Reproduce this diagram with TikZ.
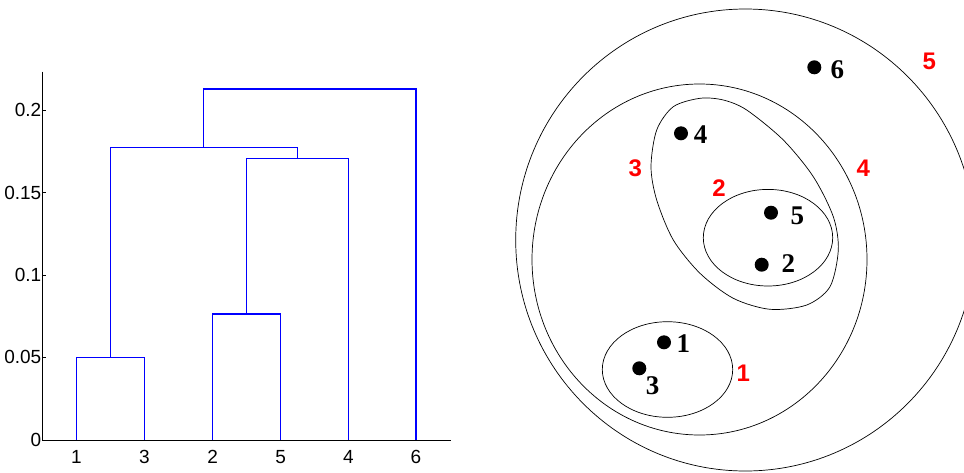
\documentclass[tikz,border=0pt]{standalone}
\usepackage{fontspec}
\setmainfont{Liberation Serif}
\setsansfont{Liberation Sans}
\usepackage{tikz}
\usetikzlibrary{positioning}

\begin{document}
\begin{tikzpicture}[x=1pt,y=-1pt,
	dend/.style={blue,line width=1.1pt},
	ring/.style={black,line width=0.7pt},
	dot/.style={circle,fill=black,inner sep=0pt,minimum size=14pt},
	ptlbl/.style={font=\fontsize{27}{27}\selectfont\bfseries,inner sep=0pt},
	lvl/.style={red,font=\fontsize{24}{24}\sffamily\bfseries\selectfont,inner sep=0pt},
	ticklbl/.style={font=\fontsize{19}{19}\sffamily\selectfont,inner sep=0.5pt}]
	
	\useasboundingbox (0,0) rectangle (964,472);
	\clip (0,0) rectangle (964,472);
	
	% dendrogram axes
	\draw[line width=0.8pt] (42,71.7) -- (42,440) -- (450.7,440);
	\foreach \v/\y in {0/440,0.05/357.3,0.1/275,0.15/192.7,0.2/110}{
		\draw[line width=0.8pt] (42,\y) -- (46,\y);
		\node[ticklbl,anchor=east] (y\v) at (42,\y) {\v};
	}
	\foreach \n/\x in {1/76.3,3/144.3,2/212.7,5/280.7,4/348.3,6/416}{
		\coordinate (l\n) at (\x,440);
		\node[ticklbl] (x\n) at (\x,457) {\n};
	}
	
	% merge points
	\coordinate (m13) at (110.3,357.3);
	\coordinate (m25) at (246.7,314);
	\coordinate (m254) at (297.5,158.3);
	\coordinate (m13254) at (203.9,147.7);
	\coordinate (mall) at (310,89);
	
	\draw[dend] (l1) |- (m13) -| (l3);
	\draw[dend] (l2) |- (m25) -| (l5);
	\draw[dend] (m25) |- (m254) -| (l4);
	\draw[dend] (m13) |- (m13254) -| (m254);
	\draw[dend] (m13254) |- (mall) -| (l6);
	
	% nested clusters
	\draw[ring] (745.4,240) ellipse [x radius=229.7, y radius=231];
	\draw[ring] (699.5,259.5) ellipse [x radius=167.5, y radius=175.5];
	\draw[ring] plot[smooth cycle] coordinates {(700,98.3) (673.3,106.7)
		(656.7,130) (651,166.7) (656.7,200) (673.3,240) (700,273.3)
		(733.3,298.3) (770,309.3) (806.7,305) (830,286.7) (838.3,250)
		(833.3,216.7) (813.3,176.7) (783.3,140) (746.7,110) (723.3,100)};
	\draw[ring] (768,237.7) ellipse [x radius=64.7, y radius=48.3];
	\draw[ring] (667.5,369.5) ellipse [x radius=65.2, y radius=47.8];
	
	% points
	\node[dot] (p1) at (664,342.3) {};
	\node[dot] (p2) at (761.7,264.7) {};
	\node[dot] (p3) at (639.3,368.3) {};
	\node[dot] (p4) at (681,133.3) {};
	\node[dot] (p5) at (771,212.7) {};
	\node[dot] (p6) at (814.3,67.3) {};
	
	\node[ptlbl] (t1) at (683.3,343.3) {1};
	\node[ptlbl] (t2) at (788.3,263.3) {2};
	\node[ptlbl] (t3) at (652.7,386) {3};
	\node[ptlbl] (t4) at (700.7,134.3) {4};
	\node[ptlbl] (t5) at (797.3,215.7) {5};
	\node[ptlbl] (t6) at (837.3,69.3) {6};
	
	% merge order
	\node[lvl] (c1) at (743.3,373.3) {1};
	\node[lvl] (c2) at (719,188.3) {2};
	\node[lvl] (c3) at (635.3,168.3) {3};
	\node[lvl] (c4) at (863.3,168.3) {4};
	\node[lvl] (c5) at (929.3,61.7) {5};
	
\end{tikzpicture}
\end{document}
